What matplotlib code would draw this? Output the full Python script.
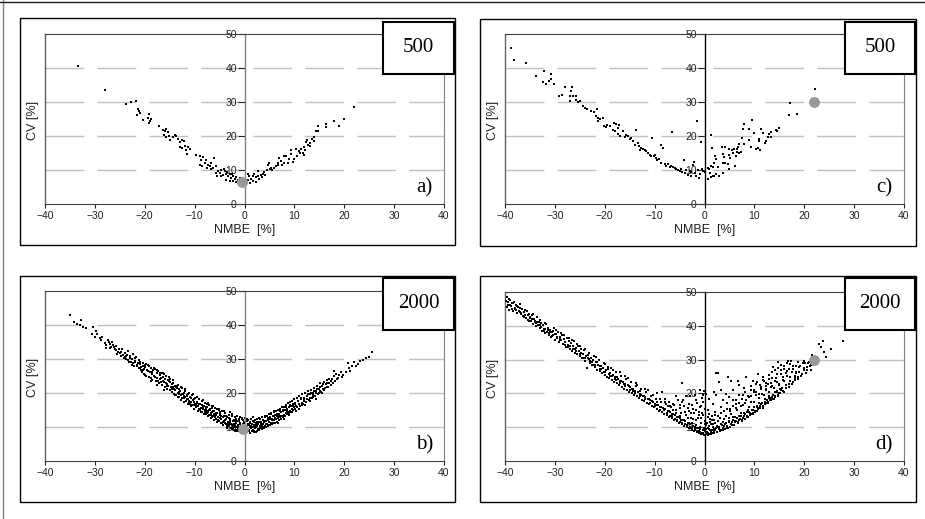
import numpy as np
import matplotlib.pyplot as plt
from matplotlib.patches import Rectangle
from matplotlib.lines import Line2D

W, H = 925, 519

# NMBE [%], CV [%] pairs
pts_a = [(-33.3, 40.5), (-28, 33.4), (-23.7, 29.4), (-22.8, 29.9), (-21.8, 30.3), (-21.3, 28), (-21.2, 27.3),
         (-21, 26.8), (-21.5, 26.3), (-20.3, 24.8), (-19.3, 25.3), (-19.2, 26.6), (-19, 24.5), (-18.7, 25),
         (-19.1, 23.8), (-17.1, 23), (-16.3, 21.9), (-16, 21.4), (-15.7, 22.1), (-15.3, 21.1), (-16.1, 20.4),
         (-15.7, 19.7), (-15.1, 20.1), (-15, 18.9), (-14.3, 19.7), (-14, 20.4), (-13.7, 19.9), (-13.3, 19.1),
         (-13, 18.1), (-12.5, 18.9), (-12.1, 18.4), (-12, 17.2), (-11.7, 16), (-11.3, 16.8), (-10.9, 16.2),
         (-11.5, 14.8), (-12.5, 16.4), (-12.9, 16.8), (-9.8, 14.5), (-9, 14), (-8.7, 13), (-8.3, 13.8),
         (-8, 12), (-7.7, 13), (-7.3, 11.6), (-7, 11.1), (-6.7, 12), (-6.2, 13.5), (-6.3, 10.6), (-9, 11.4),
         (-8.5, 11.1), (-7.5, 10.6), (-5.7, 11.3), (-5.3, 9.6), (-5, 9.1), (-4.7, 10.1), (-4.3, 8.6), (-4, 9.6),
         (-3.7, 8.9), (-3.3, 8.2), (-3, 8.7), (-2.7, 7.6), (-2.3, 8.3), (-2, 7.4), (-1.7, 8), (-1.3, 7),
         (-1, 7.6), (-5.8, 9.1), (-5.5, 8.1), (-4.7, 8.1), (-3.7, 7.2), (-3, 6.9), (-2.3, 6.7), (-1.7, 6.4),
         (-6.8, 10.2), (-4.1, 10.4), (-3.5, 9.4), (-2.6, 8.9), (-0.8, 7.3), (-0.2, 5.9), (0.2, 6.3),
         (22, 28.6), (20, 24.9), (19, 22.9), (17.9, 24.4), (16.3, 23.4), (16.3, 22.6), (14.7, 22.9), (14.7, 21.5),
         (14.3, 21.5), (14, 19.8), (13.9, 18.5), (13.5, 19), (13.2, 18), (12.8, 17.5), (12.3, 18.2), (12.5, 18.8),
         (12, 16.9), (12.1, 15.9), (11.7, 15.1), (11.9, 14.3), (11.3, 16.1), (10.9, 15.6), (10.3, 16.3),
         (9.3, 15.9), (10.5, 14), (10, 13.2), (9.7, 12.4), (9, 13.2), (8.3, 14), (8, 14.1), (8.7, 12.2),
         (8, 12), (7.3, 12.7), (7, 13.4), (6.8, 11.4), (6.3, 11.2), (6, 10.7), (5.3, 10.7), (5, 12.2),
         (4.8, 11.4), (5.2, 10.2), (4.5, 10), (4, 9.3), (3.7, 8.8), (3.3, 8.5), (2.8, 9.8), (2.7, 8.3),
         (2.3, 7.8), (2, 8.8), (1.7, 8.3), (1.3, 7.5), (1, 8.1), (0.7, 8.8), (0.8, 7.1), (1.7, 6.8),
         (2.3, 6.5), (3, 7.3), (0.3, 6.1), (6.7, 12.2), (5.6, 9.9), (4.2, 8.4), (7.6, 11.5), (9.4, 14.6),
         (11.1, 15), (13.1, 17.1), (1.2, 6.2), (3.6, 7.9)]

pts_c = [(-38.7, 45.9), (-38.2, 42.5), (-35.8, 41.5), (-33.8, 37.7), (-32.1, 39), (-32.3, 35.9), (-31.7, 35.4),
         (-31.1, 36.1), (-30.7, 36.8), (-30.8, 38.2), (-30.2, 35.2), (-29.1, 31.9), (-28.5, 32.2), (-28, 34.3),
         (-26.9, 31.9), (-26.7, 33.1), (-26.5, 34.4), (-26.3, 31.7), (-26.9, 30.2), (-25.8, 31.7), (-25.7, 30.7),
         (-25.3, 29.9), (-25, 30.2), (-24.3, 28.9), (-24, 28.2), (-23.5, 27.9), (-22.7, 27.5), (-22.2, 27),
         (-21.5, 27.9), (-21.8, 26), (-21.3, 25.3), (-21, 25), (-21.3, 24.3), (-20.3, 25.3), (-20.2, 23),
         (-19.7, 22.6), (-19.5, 23.3), (-19, 22.8), (-18.2, 23.8), (-17.7, 23.5), (-17.2, 23.3), (-17.3, 22.4),
         (-18.3, 21.9), (-18, 21.4), (-17.3, 20.7), (-16.9, 20.1), (-16.3, 21.4), (-16, 19.7), (-15.7, 20.4),
         (-15.3, 20.1), (-15, 19.1), (-14.7, 19.4), (-14.3, 18.4), (-13.8, 21.7), (-14, 17.5), (-13.3, 18),
         (-13.1, 17), (-12.7, 16.5), (-13, 16), (-12.3, 16.2), (-11.7, 15.5), (-11.3, 15), (-11, 14.5),
         (-10.7, 14), (-10.5, 19.4), (-10.2, 14.2), (-9.8, 13.5), (-9.5, 12.8), (-9.1, 13.2), (-8.7, 12.2),
         (-8.7, 17.5), (-8.3, 16.5), (-8, 11.7), (-7.7, 11.1), (-7.3, 11.9), (-7, 10.8), (-6.7, 11.3),
         (-6.5, 21.1), (-6, 10.6), (-5.7, 10.3), (-5.3, 10.1), (-5, 9.6), (-4.7, 10.3), (-4.5, 9.3),
         (-4.1, 13), (-4, 9.1), (-3.7, 10.1), (-3.3, 8.6), (-3, 9.6), (-2.7, 8.1), (-2.3, 11.6), (-2.1, 12.5),
         (-2, 9.1), (-1.7, 8.1), (-1.5, 24.4), (-1.3, 10.1), (-1.1, 7.6), (-0.7, 18.2), (-2.2, 12.4),
         (-2.7, 9.3), (-1, 8.8), (-0.5, 10.4), (-0.3, 9.8), (-9.9, 14.4), (-12, 15.8), (-6.3, 11),
         (22.2, 33.7), (17.1, 29.6), (16.9, 26.3), (18.5, 26.6), (14.9, 22.4), (14.3, 21.8), (14.5, 21.5),
         (13.3, 21.2), (13, 20.5), (13.3, 19.8), (12.7, 19.8), (12.2, 18), (11.8, 20.8), (11.3, 22.1),
         (11, 19), (10.9, 18.5), (10.7, 16.6), (11.1, 15.9), (10.3, 16.3), (10, 21), (9.5, 24.7), (9, 22.1),
         (8.9, 18.8), (8, 23.4), (7.7, 22.1), (7.5, 19.5), (8, 17.6), (9.3, 16.9), (7, 17.6), (6.7, 16.9),
         (6.5, 16.1), (7, 14.9), (6.3, 14.1), (6, 16.3), (5.7, 15.1), (7.3, 15.3), (6.2, 11.2), (5.2, 13.4),
         (4.9, 10.2), (4.7, 11.7), (4.2, 12), (4, 13.7), (3.8, 14.6), (3.5, 16.9), (4.2, 16.9), (5, 16.1),
         (4.9, 14.3), (3.7, 12.2), (2.7, 11), (2.3, 13.2), (2.2, 14), (2, 12.2), (1.8, 11), (1.5, 16.6),
         (1.3, 20.2), (1.3, 11.2), (1, 10.2), (0.7, 10.7), (1.1, 9.1), (1.7, 8.3), (2.3, 8.8), (3, 8.3),
         (3.8, 9), (0.2, 9.5), (0.7, 7.3), (1.3, 7.8), (2, 8.1), (5.5, 15.8), (6.6, 15.4), (12.4, 18.6)]

pts_b = [(-35, 42.9), (-34.2, 41), (-33.5, 40.3), (-32.7, 41.5), (-32.9, 40), (-32.3, 39.3), (-31.8, 39),
         (-30.3, 39.3), (-30.5, 37.5), (-29.8, 38.3), (-29.5, 37.5), (-30, 36.4), (-29, 36.1), (-28.7, 35.6),
         (-28.5, 36.4), (-28, 34.8), (-27.7, 34.1), (-27.8, 33.1), (-27.1, 35.1), (-27, 34.4), (-26.7, 33.6),
         (-26.3, 34.1), (-26, 32.8), (-25.7, 32.6), (-25.3, 32.2), (-25, 31.7), (-24.7, 32.2), (-24.3, 31.2),
         (-24, 30.7), (-23.7, 30.9), (-23.3, 29.7), (-23, 30.2), (-22.7, 29.2), (-22.3, 28.7), (-22, 29.5),
         (-21.7, 30.7), (-21.5, 28.2), (-21, 29.2), (-21, 27.3), (-20.7, 27.7), (-20.3, 26.8), (-20, 28.2),
         (-27.4, 35.5), (-26.9, 33.2), (-26.5, 35), (-26.2, 33.5), (-25.8, 33.8), (-25.5, 31.5), (-25.1, 33),
         (-24.8, 31), (-24.5, 32.8), (-24.1, 30.2), (-23.9, 31.8), (-23.5, 31.2), (-23.2, 29.1), (-22.9, 31),
         (-22.5, 30), (-22.2, 27.8), (-21.9, 30.3), (-21.3, 28.9), (-21.2, 27.5), (-20.9, 28.5), (-20.5, 26.3),
         (-20.4, 28.9), (-20.1, 25.6), (-20.2, 27),
         (-19.9, 27.6), (-19.7, 25.1), (-19.6, 26.9), (-19.4, 28.1), (-19.2, 24.6), (-19, 26.2), (-18.8, 27.4),
         (-18.6, 25.6), (-18.5, 23.9), (-18.3, 26.8), (-18.1, 25), (-17.9, 27.1), (-17.8, 23.5), (-17.6, 25.9),
         (-17.5, 24.4), (-17.3, 26.5), (-17.1, 22.9), (-17, 25.2), (-16.9, 24), (-16.7, 26), (-16.6, 22.5),
         (-16.4, 24.8), (-16.3, 23.4), (-16.1, 25.5), (-16, 21.8), (-15.9, 24.2), (-15.7, 22.9), (-15.6, 21.2),
         (-15.4, 23.8), (-15.3, 22.1), (-15.1, 24.6), (-15, 20.8), (-14.9, 23.1), (-14.8, 21.7), (-14.6, 22.6),
         (-14.5, 20.4), (-14.4, 23.7), (-14.2, 21.3), (-14.1, 19.8), (-14, 22.2), (-17.5, 22.3), (-18.8, 23.6),
         (-16.2, 20.8),
         (-13.9, 20.9), (-13.8, 19.4), (-13.6, 22), (-13.5, 21.4), (-13.4, 18.7), (-13.3, 19.9), (-13.2, 21.1),
         (-13.1, 18.7), (-12.9, 20.7), (-12.8, 17.9), (-12.7, 19.4), (-12.6, 21.5), (-12.5, 18.4), (-12.3, 19.8),
         (-12.2, 20.1), (-12.1, 17.3), (-12, 18.9), (-11.9, 20.6), (-11.8, 17.7), (-11.6, 19.2), (-11.5, 19.4),
         (-11.4, 16.8), (-11.3, 18.1), (-11.2, 20), (-11.1, 17.2), (-10.9, 18.7), (-10.8, 16.1), (-10.7, 17.4),
         (-10.6, 19.3), (-10.5, 16.5), (-10.3, 17.9), (-10.2, 18.1), (-10.1, 15.4), (-10, 16.8), (-9.9, 18.6),
         (-9.8, 15.8), (-9.6, 17.1), (-9.5, 17.4), (-9.4, 14.8), (-9.3, 16.2), (-9.2, 18.2), (-9.1, 15.2),
         (-8.9, 16.8), (-8.8, 14.4), (-8.7, 15.5), (-8.6, 17.6), (-8.5, 14.5), (-8.3, 16), (-8.2, 16.2),
         (-8.1, 13.7),
         (-8, 15), (-7.9, 17), (-7.8, 13.8), (-7.7, 15.9), (-7.6, 14.2), (-7.5, 15.8), (-7.4, 13.1), (-7.3, 14.5),
         (-7.2, 16.6), (-7.1, 13.5), (-7, 15.1), (-6.9, 15.2), (-6.8, 12.6), (-6.7, 14.1), (-6.6, 16.2),
         (-6.5, 12.8), (-6.4, 14.7), (-6.3, 13.3), (-6.2, 14.8), (-6.1, 12.1), (-6, 13.5), (-5.9, 15.6),
         (-5.8, 12.3), (-5.7, 14), (-5.6, 11.6), (-5.5, 14.2), (-5.4, 12.9), (-5.3, 13), (-5.2, 15.1),
         (-5.1, 11.8), (-5, 13.4), (-4.9, 13.8), (-4.8, 11.1), (-4.7, 12.5), (-4.6, 14.6), (-4.5, 11.2),
         (-4.4, 12.9), (-4.3, 10.7), (-4.2, 13.2), (-4.1, 11.9), (-4, 12), (-3.9, 14.1), (-3.8, 10.9),
         (-3.7, 12.4), (-3.6, 10.3), (-3.5, 12.8), (-3.4, 11.4), (-3.3, 11.5), (-3.2, 13.6), (-3.1, 10.3),
         (-7.6, 16.8), (-6.4, 16.3), (-5.1, 15.4), (-3, 14.5),
         (-3, 12.2), (-2.9, 12.5), (-2.8, 9.8), (-2.7, 11), (-2.6, 13.2), (-2.5, 9.5), (-2.4, 11.8), (-2.3, 10.4),
         (-2.2, 12), (-2.1, 9.2), (-2, 10.6), (-1.9, 12.9), (-1.8, 9.1), (-1.7, 11.3), (-1.6, 10), (-1.5, 11.8),
         (-1.4, 8.7), (-1.3, 10.3), (-1.2, 12.4), (-1.1, 8.9), (-1, 10.9), (-0.9, 11.2), (-0.8, 9.4),
         (-0.7, 9.5), (-0.6, 12.7), (-0.5, 8.3), (-0.4, 10.6), (-0.3, 12), (-0.2, 9), (-0.1, 11.5), (0, 8.5),
         (-2.6, 10.7), (-1.9, 10.1), (-1.1, 9.9), (-0.4, 9.6), (-3.5, 9.8), (-2, 8.9), (-1.6, 13.1), (-0.9, 13),
         (0.1, 10.3), (0.2, 12.6), (0.3, 8.4), (0.4, 9.8), (0.5, 11.7), (0.6, 8.6), (0.7, 10.9), (0.8, 12.2),
         (0.9, 9.2), (1, 10.5), (1.1, 8.3), (1.2, 11.4), (1.3, 9.7), (1.4, 12.5), (1.5, 8.8), (1.6, 10.1),
         (1.7, 11.8), (1.8, 9.1), (1.9, 10.7), (2, 8.6), (2.1, 12), (2.2, 9.6), (2.3, 11.2), (2.4, 10.1),
         (2.5, 8.8), (2.6, 12.3), (2.7, 9.4), (2.8, 10.8), (2.9, 11.6), (3, 9.1), (3.1, 10.2), (3.2, 12.4),
         (3.3, 9.6), (3.4, 11.1), (3.5, 10.4), (3.6, 9.3), (3.7, 12.1), (3.8, 10), (3.9, 11.4), (4, 9.7),
         (0.5, 9.3), (1.2, 10), (1.9, 9.9), (2.6, 10.4), (3.3, 10.9),
         (4.1, 12.9), (4.2, 10.4), (4.3, 11.7), (4.4, 9.9), (4.5, 13.3), (4.6, 11), (4.7, 12.2), (4.8, 10.2),
         (4.9, 13.7), (5, 11.5), (5.1, 10.6), (5.2, 12.8), (5.3, 11.2), (5.4, 14), (5.5, 10.8), (5.6, 12.4),
         (5.7, 13.1), (5.8, 11.3), (5.9, 14.4), (6, 12), (6.1, 11.1), (6.2, 13.5), (6.3, 12.3), (6.4, 14.8),
         (6.5, 11.6), (6.6, 13.1), (6.7, 12.7), (6.8, 15), (6.9, 12), (7, 13.9), (7.1, 12.8), (7.2, 15.4),
         (7.3, 12.4), (7.4, 14.3), (7.5, 13.2), (7.6, 15.8), (7.7, 12.8), (7.8, 14.6), (7.9, 13.6), (8, 16),
         (8.1, 13.2), (8.2, 15), (8.3, 14.1), (8.4, 16.5), (8.5, 13.7), (8.6, 15.3), (8.7, 14.5), (8.8, 17),
         (8.9, 14.1), (9, 15.9), (9.1, 14.8), (9.2, 17.4), (9.3, 14.5), (9.4, 16.3), (9.5, 15.3), (9.6, 17.7),
         (9.7, 15), (9.8, 16.8), (9.9, 15.8), (10, 18.2), (10.1, 15.4), (10.2, 17.2), (10.4, 16.2), (10.5, 18.6),
         (10.6, 15.8), (10.8, 17.6), (10.9, 16.7), (11, 19), (11.2, 16.3), (11.3, 18.1), (11.5, 17.2),
         (11.6, 19.6), (11.7, 16.8), (11.9, 18.6), (12, 17.6), (12.2, 20),
         (12.3, 17.3), (12.5, 19), (12.6, 18.1), (12.8, 20.5), (12.9, 17.8), (13.1, 19.6), (13.2, 18.6),
         (13.4, 21), (13.5, 18.4), (13.7, 20.1), (13.8, 19.3), (14, 21.6), (14.1, 19), (14.3, 20.7), (14.4, 19.9),
         (14.6, 22.2), (14.8, 19.7), (14.9, 21.3), (15.1, 20.5), (15.2, 22.8), (15.4, 20.4), (15.6, 22),
         (15.7, 21.2), (15.9, 23.3), (16, 20.9), (16.3, 22.6), (16.5, 21.8), (16.6, 23.7),
         (16.8, 21.8), (17, 23), (17.3, 22.5), (17.5, 24.2), (17.7, 23), (18, 26.5), (18.1, 23.5), (18.3, 25.6),
         (18.5, 24.1), (18.7, 24.3), (18.9, 25.4), (19.3, 26.3), (19.5, 24.8), (19.7, 25.3), (20.3, 26.3),
         (20.7, 28.9), (21, 27.3), (21.2, 26.6), (21.5, 27.8), (22, 29.2), (22.3, 28), (22.8, 28.5),
         (23.2, 29.3), (23.7, 29.7), (24.3, 30.2), (25, 30.7), (25.5, 32),
         (-23.85, 30.1), (-23.45, 32.3), (-23.05, 30.8), (-22.65, 28.1), (-22.35, 31.4), (-21.95, 29.1),
         (-21.55, 27.9), (-21.15, 29.7), (-20.75, 26.9), (-20.35, 27.9), (-19.95, 25.2), (-19.65, 28.4),
         (-19.35, 26.4), (-19.05, 27.8), (-18.75, 24.4), (-18.45, 26.1), (-18.15, 27.5), (-17.85, 24.7),
         (-17.55, 26.8), (-17.25, 23.6), (-16.95, 25.8), (-16.65, 24.4), (-16.35, 25.9), (-16.05, 23.1),
         (-15.75, 24.9), (-15.45, 22.6), (-15.15, 23.4), (-14.85, 24.2), (-14.55, 21.2), (-14.25, 22.9),
         (-13.95, 19.4), (-13.65, 21.7), (-13.35, 22.5), (-13.05, 20.2), (-12.75, 21.9), (-12.45, 19.6),
         (-12.15, 18.5), (-11.85, 21.1), (-11.55, 18.1), (-11.25, 19.7), (-10.95, 16.9), (-10.65, 18.4),
         (-10.35, 19.8), (-10.05, 17.5), (-9.75, 16.4), (-9.45, 18.8), (-9.15, 16.9), (-8.85, 15.1),
         (-8.55, 16.6), (-8.25, 17.9), (-7.95, 14.3), (-7.65, 15.2), (-7.35, 17.2), (-7.05, 14.9),
         (-6.75, 13.4), (-6.45, 15.6), (-6.15, 13.9), (-5.85, 12.9), (-5.55, 15.3), (-5.25, 12.2),
         (-4.95, 14.3), (-4.65, 13.1), (-4.35, 11.6), (-4.05, 14.7), (-3.75, 13.1), (-3.45, 10.8),
         (-3.15, 12.6), (-2.85, 11.5), (-2.55, 13.8), (-2.25, 9.8), (-1.95, 11.7), (-1.65, 12.4), (-1.35, 9.3),
         (-1.05, 11.8), (-0.75, 10.2), (-0.45, 12.4), (-0.15, 9.6), (0.15, 11.1), (0.45, 12.3), (0.75, 9.5),
         (1.05, 11.3), (1.35, 10.3), (1.65, 12.9), (1.95, 11.5), (2.25, 8.5), (2.55, 11.4), (2.85, 12.6),
         (3.15, 9.7), (3.45, 12.9), (3.75, 10.8), (4.05, 13.2), (4.35, 10.9), (4.65, 12.7), (4.95, 10.5),
         (5.25, 13.7), (5.55, 12.1), (5.85, 14.6), (6.15, 12.6), (6.45, 13.7), (6.75, 11.3), (7.05, 14.6),
         (7.35, 13.3), (7.65, 14.9), (7.95, 12.5), (8.25, 15.9), (8.55, 14.8), (8.85, 13.5), (9.15, 16.4),
         (9.45, 14.4), (9.75, 16.2), (10.05, 16.7), (10.35, 14.6), (10.65, 17.7), (10.95, 15.4), (11.25, 18.6),
         (11.55, 16.5), (11.85, 17.9), (12.15, 16.4), (12.45, 18.3), (12.75, 19.6), (13.05, 17.6),
         (13.35, 20.1), (13.65, 18.8), (13.95, 20.6), (14.25, 18.3), (14.55, 21.3), (14.85, 20.1),
         (15.15, 21.9), (15.45, 19.9), (15.75, 22.6), (16.05, 21.4), (16.45, 22.9), (16.95, 24.2),
         (17.35, 23.6), (17.85, 25.1),
         (-5.65, 13.6), (-4.85, 12.6), (-3.95, 11.2), (-3.05, 10.8), (-2.15, 10.9), (-1.25, 10.6), (-0.35, 11),
         (0.55, 10.4), (1.45, 11), (2.35, 10.6), (3.25, 11.6), (4.15, 11.8), (5.05, 12.3), (5.95, 13.1),
         (6.85, 13.3), (-6.55, 14.4), (-7.45, 14.6), (-8.35, 15.4), (-9.25, 16.1), (-10.15, 16.4),
         (-11.05, 17.7), (-12.05, 19.1), (-13.15, 19.7), (-14.35, 21.8), (-15.55, 22.2), (-16.75, 23.3),
         (-0.85, 8.6), (0.95, 8.7), (-1.75, 8.9), (1.85, 8.9)]

pts_d = [(-39.8, 47.2), (-39.6, 45.5), (-39.5, 48.6), (-39.3, 46.3), (-39.1, 44.8), (-38.9, 47.5), (-38.8, 45.9),
         (-38.6, 46.8), (-38.4, 44.4), (-38.2, 47), (-38, 45.3), (-37.8, 46.2), (-37.6, 43.9), (-37.4, 45.6),
         (-37.2, 44.3), (-37, 46.5), (-36.8, 43.5), (-36.6, 44.9), (-36.4, 42.8), (-36.2, 44.1), (-36, 43.3),
         (-35.8, 42.2), (-35.6, 44.5), (-35.4, 41.8), (-35.2, 43.6), (-35, 42.7), (-34.8, 41.3), (-34.6, 43.2),
         (-34.4, 40.6), (-34.2, 42.1), (-34, 41.5), (-33.8, 39.8), (-33.6, 42.6), (-33.4, 40.3), (-33.2, 41.2),
         (-33, 39.4), (-32.8, 40.8), (-32.6, 38.6), (-32.4, 40.1), (-32.2, 39), (-32, 37.8), (-31.8, 40.5),
         (-31.6, 38.2), (-31.4, 39.4), (-31.2, 37.3), (-31, 38.7), (-30.8, 36.6), (-30.6, 38.1), (-30.4, 37.4),
         (-30.2, 39.3), (-30, 35.9), (-29.8, 37.6), (-29.6, 36.3), (-29.4, 38.2), (-29.2, 35.3), (-29, 36.8),
         (-28.8, 35.7), (-28.6, 37.4), (-28.4, 34.6), (-28.2, 36), (-28, 35.1), (-27.8, 33.8), (-27.6, 36.5),
         (-27.4, 34.3), (-27.2, 35.5), (-27, 33.2), (-26.8, 34.8), (-26.6, 32.6), (-26.4, 33.9), (-26.2, 35.4),
         (-26, 32), (-25.8, 33.3), (-25.6, 31.6), (-25.4, 34), (-25.2, 32.4), (-25, 31), (-24.8, 33.1),
         (-24.6, 30.4), (-24.4, 31.8), (-24.2, 32.9), (-24, 29.7), (-23.8, 31.2), (-23.6, 27.6), (-23.4, 30.5),
         (-23.2, 32), (-23, 29.1), (-22.8, 30.6), (-22.6, 28.4), (-22.4, 29.8), (-22.2, 31.1), (-22, 27.8),
         (-21.8, 29.2), (-21.6, 27), (-21.4, 28.5), (-21.2, 30), (-21, 26.6), (-20.8, 28), (-20.6, 26.1),
         (-20.4, 27.4), (-20.2, 28.9), (-20, 25.4), (-19.8, 26.8), (-19.6, 25), (-19.4, 27.3), (-19.2, 24.6),
         (-19, 26), (-18.8, 27.6), (-18.6, 24), (-18.4, 25.5), (-18.2, 23.4), (-18, 24.9), (-17.8, 26.3),
         (-17.6, 23), (-17.4, 24.4), (-17.2, 22.5), (-17, 23.8), (-16.8, 25.2), (-16.6, 22), (-16.4, 23.3),
         (-16.2, 21.4), (-16, 22.7), (-15.8, 24.3), (-15.6, 21), (-15.4, 22.4), (-15.2, 20.5), (-15, 21.8),
         (-14.8, 23.4), (-14.6, 20), (-14.4, 21.4), (-14.2, 19.6), (-14, 20.8), (-13.8, 22.1), (-13.6, 19.1),
         (-13.4, 20.3), (-13.2, 18.6), (-13, 19.8), (-12.8, 21.2), (-12.6, 18.1), (-12.4, 19.3), (-12.2, 17.7),
         (-12, 18.9), (-11.8, 20.3), (-11.6, 17.2), (-11.4, 18.4), (-11.2, 16.8), (-11, 17.9), (-10.8, 19.2),
         (-10.6, 16.3), (-10.4, 17.5), (-10.2, 15.9), (-10, 17), (-9.8, 18.4), (-9.6, 15.4), (-9.4, 16.6),
         (-9.2, 14.9), (-9, 16.1), (-8.8, 17.6), (-8.6, 14.5), (-8.4, 15.6), (-8.2, 14), (-8, 15.3), (-7.8, 16.8),
         (-7.6, 13.6), (-7.4, 14.8), (-7.2, 13.1), (-7, 14.4), (-6.8, 15.9), (-6.6, 12.6), (-6.4, 14),
         (-6.2, 12.2), (-6, 13.5), (-5.8, 15.1), (-5.6, 11.8), (-5.4, 13.1), (-5.2, 11.3), (-5, 12.6),
         (-4.8, 14.3), (-4.6, 10.9), (-4.4, 12.2), (-4.2, 10.5), (-4, 11.7), (-3.8, 13.5), (-3.6, 10.1),
         (-3.4, 11.3), (-3.2, 9.7), (-3, 10.9), (-2.8, 12.7), (-2.6, 9.3), (-2.4, 10.5), (-2.2, 8.9), (-2, 10.1),
         (-1.8, 12), (-1.6, 8.6), (-1.4, 9.8), (-1.2, 8.3), (-1, 9.4), (-0.8, 11.3), (-0.6, 8), (-0.4, 9.1),
         (-0.2, 7.8), (0, 8.8),
         (-6.9, 13.2), (-5.9, 12.4), (-4.9, 11.6), (-3.9, 10.8), (-2.9, 10), (-1.9, 9.3), (-0.9, 8.7),
         (-7.5, 14.1), (-6.5, 13.3), (-5.5, 12), (-4.5, 11.2), (-3.5, 10.6), (-2.5, 9.8), (-1.5, 9), (-0.5, 8.4),
         (-8.9, 15.2), (-9.9, 16.2), (-10.9, 17.1), (-11.9, 18.2), (-12.9, 19.1), (-13.9, 20.1), (-14.9, 21.1),
         (-15.9, 22.1), (-16.9, 23.1), (-17.9, 24.2), (-18.9, 25.2), (-19.9, 26.2), (-20.9, 27.2), (-21.9, 28.3),
         (-22.9, 29.5), (-23.9, 30.6), (-24.9, 31.8), (-25.9, 33), (-26.9, 34.1), (-27.9, 35.2), (-28.9, 36.5),
         (-29.9, 37.5), (-30.9, 38.2), (-31.9, 39.2), (-32.9, 40.3), (-33.9, 41.2), (-34.9, 42.2), (-35.9, 43.1),
         (-36.9, 44.2), (-37.9, 45), (-38.9, 46.1),
         (-8.5, 20.3), (-9.5, 20.2), (-4.5, 23), (-5.7, 19.3), (-3.7, 19.1), (-2.5, 16.7), (-1.7, 15),
         (-2.9, 19.3), (-6.3, 17), (-4.1, 16.2), (-3.2, 14.8), (-1.2, 13.5), (-0.3, 17.4), (-0.6, 14.2),
         (-7.2, 17.5), (-5, 15.8), (-8, 18.2), (-0.1, 20.8), (-1.3, 12.6), (-2.1, 14.1), (-3.4, 15.6),
         (-4.6, 17.4),
         (0.2, 7.6), (0.4, 9.5), (0.6, 11.2), (0.8, 8.2), (1, 10.3), (1.2, 12.5), (1.4, 7.9), (1.6, 9.1),
         (1.8, 11), (2, 8.3), (2.2, 13.6), (2.4, 9.8), (2.6, 8.5), (2.8, 11.7), (3, 10.2), (3.2, 8.8), (3.4, 14.1),
         (3.6, 10.6), (3.8, 9.2), (4, 12.3), (4.2, 9.5), (4.4, 11.1), (4.6, 15.4), (4.8, 9.8), (5, 12.8),
         (5.2, 10.2), (5.4, 13.9), (5.6, 11.4), (5.8, 16.2), (6, 10.6), (6.2, 13.1), (6.4, 11.8), (6.6, 15),
         (6.8, 11.2), (7, 17.1), (7.2, 12.5), (7.4, 14.3), (7.6, 11.8), (7.8, 16.5), (8, 13.2), (8.2, 12.3),
         (8.4, 18), (8.6, 14.6), (8.8, 13), (9, 16.1), (9.2, 13.6), (9.4, 19.2), (9.6, 15.1), (9.8, 14.2),
         (10, 17.6), (10.2, 14.6), (10.4, 20.3), (10.6, 16.2), (10.8, 15.3), (11, 18.6), (11.2, 15.7),
         (11.4, 21.4), (11.6, 17.1), (11.8, 16.3), (12, 19.5), (12.2, 16.8), (12.4, 22.1), (12.6, 18),
         (12.8, 17.4), (13, 20.5), (13.2, 17.9), (13.4, 23.2), (13.6, 19), (13.8, 18.4), (14, 21.6), (14.2, 19),
         (14.4, 24.5), (14.6, 20.3), (14.8, 19.5), (15, 22.4), (15.2, 20), (15.4, 25.7), (15.6, 21.5),
         (15.8, 20.6), (16, 23.6), (16.3, 21.5), (16.6, 26.5), (16.9, 22.7), (17.2, 24.8), (17.5, 22.8),
         (17.8, 27.2), (18.1, 24.5), (18.4, 26), (18.8, 24.4), (19.2, 28), (19.6, 25.8), (20, 27), (20.4, 26.1),
         (20.8, 29), (21.2, 28.1), (21.6, 31.5), (22.6, 30.8), (22.8, 29.6),
         (0.1, 9), (0.5, 8.1), (0.9, 9.4), (1.3, 8.6), (1.7, 10.2), (2.1, 9.2), (2.5, 10.5), (2.9, 9.5),
         (3.3, 10.8), (3.7, 9.9), (4.1, 11), (4.5, 10.3), (4.9, 11.6), (5.3, 10.8), (5.7, 12.1), (6.1, 11.4),
         (6.5, 12.6), (6.9, 12), (7.3, 13.2), (7.7, 12.6), (8.1, 13.8), (8.5, 13.3), (8.9, 14.5), (9.3, 14),
         (9.7, 15.2), (10.1, 14.8), (10.5, 16), (10.9, 15.6), (11.3, 16.8), (11.7, 16.3), (12.1, 17.6),
         (12.5, 17.1), (12.9, 18.5), (13.3, 18.1), (13.7, 19.5), (14.1, 19.2), (14.5, 20.6), (14.9, 20.2),
         (0.3, 10.7), (0.7, 12.9), (1.1, 11.6), (1.5, 13.3), (1.9, 12.2),
         (27.8, 35.4), (25.3, 33.1), (24.3, 30.9), (23.7, 35.6), (22.9, 34.6), (23.3, 33.6), (24, 32.2),
         (22.3, 30.2), (21.3, 27), (20.5, 27.7), (20, 29.5), (19.7, 28.9), (19, 27.7), (18.7, 29.2), (18.3, 26.3),
         (18.2, 24), (17.7, 28.2), (17.3, 29.5), (17, 27.3), (16.7, 29.7), (16.3, 26), (16, 28.2), (15.7, 24.8),
         (15.3, 26.8), (15, 22.8), (14.7, 29.2), (14.5, 25.8), (14.2, 23.8), (13.7, 27.7), (13.5, 26.3),
         (13.3, 21.9), (13, 24.4), (12.7, 22.8), (12.3, 20.9), (12, 23.6), (11.7, 25), (11.3, 21.9), (11, 19.9),
         (10.7, 25.6), (10.3, 22.8), (10, 20.4), (9.7, 23.8), (9.3, 21.1), (9, 18.9), (8.3, 24.8), (8, 21.7),
         (7.7, 19.4), (7, 22.4), (6.7, 23.8), (6.3, 17.9), (5.7, 20.9), (5.3, 23.6), (5, 18.9), (4.3, 19.9),
         (3.7, 17.9), (3.3, 20.9), (2.7, 26), (3, 23.3), (2.3, 19.4), (2, 20.4), (1.7, 17), (1, 18.4),
         (0.3, 19.9), (-0.3, 19.4), (-1, 16), (0, 15.5), (-1.7, 17.9), (0.7, 15), (4.8, 24.9), (2.3, 25.9),
         (-39.45, 46.9), (-38.55, 45.1), (-37.75, 44.8), (-36.95, 45.3), (-36.15, 42.6), (-35.35, 43.1),
         (-34.55, 42.1), (-33.75, 40.9), (-32.95, 41.6), (-32.15, 38.4), (-31.35, 38.9), (-30.55, 36.9),
         (-29.75, 38.8), (-28.95, 35.9), (-28.15, 37.4), (-27.35, 33.6), (-26.55, 35.8), (-25.75, 32.4),
         (-24.95, 33.9), (-24.15, 30.6), (-23.35, 31.5), (-22.55, 29.2), (-21.75, 30.9), (-20.95, 28.1),
         (-20.15, 26.3), (-19.35, 27.9), (-18.55, 25.1), (-17.75, 24), (-16.95, 26.2), (-16.15, 22.9),
         (-15.35, 24.6), (-14.55, 21.2), (-13.75, 23), (-12.95, 20.6), (-12.15, 19.1), (-11.35, 20.9),
         (-10.55, 17.8), (-9.75, 16.6), (-8.95, 18.4), (-8.15, 15.2), (-7.35, 16.2), (-6.55, 13.9),
         (-5.75, 14.2), (-4.95, 13.4), (-4.15, 12.1), (-3.35, 12.6), (-2.55, 11.1), (-1.75, 10.6),
         (-0.95, 10.1), (-0.15, 9.6),
         (-39.15, 47.8), (-38.35, 46.6), (-37.55, 45.9), (-36.75, 43.9), (-35.95, 44.6), (-35.15, 41.4),
         (-34.35, 43.6), (-33.55, 41), (-32.75, 39.5), (-31.95, 40.9), (-31.15, 37.9), (-30.35, 38.6),
         (-29.55, 36.6), (-28.75, 37.9), (-27.95, 34.4), (-27.15, 36.3), (-26.35, 33.1), (-25.55, 34.6),
         (-24.75, 32), (-23.95, 33.2), (-23.15, 30.3), (-22.35, 28.4), (-21.55, 29.4), (-20.75, 27.1),
         (-19.95, 28.6), (-19.15, 25.6), (-18.35, 26.9), (-17.55, 24.8), (-16.75, 23.7), (-15.95, 25.1),
         (-15.15, 22.3), (-14.35, 20.8), (-13.55, 22.5), (-12.75, 19.6), (-11.95, 21.3), (-11.15, 18.3),
         (-10.35, 19.6), (-9.55, 17.4), (-8.75, 16), (-7.95, 17.6), (-7.15, 14.7), (-6.35, 15.2), (-5.55, 13),
         (-4.75, 12), (-3.95, 14.6), (-3.15, 11.2), (-2.35, 12.3), (-1.55, 9.9), (-0.75, 12.6), (0.05, 10.9),
         (-6.05, 16.6), (-5.35, 18.1), (-4.25, 17.9), (-3.05, 16.9), (-2.35, 15.4), (-1.45, 17.2),
         (-0.65, 16.2), (-0.25, 13.6), (-1.05, 14.6), (-2.75, 14.2), (-4.85, 16.5), (-6.95, 16.4),
         (-0.45, 18.7), (-1.95, 19.6), (-0.85, 21),
         (0.35, 8.4), (0.65, 9.9), (0.95, 7.9), (1.25, 10.9), (1.55, 8.4), (1.85, 9.6), (2.15, 11.3),
         (2.45, 8.7), (2.75, 10), (3.05, 12.6), (3.35, 9.3), (3.65, 11.4), (3.95, 10.5), (4.25, 13.3),
         (4.55, 9.9), (4.85, 11.9), (5.15, 14.7), (5.45, 10.6), (5.75, 12.9), (6.05, 11.9), (6.35, 15.8),
         (6.65, 11.6), (6.95, 13.4), (7.25, 16.3), (7.55, 12.2), (7.85, 14.1), (8.15, 17.3), (8.45, 12.9),
         (8.75, 15.2), (9.05, 14.3), (9.35, 17.6), (9.65, 13.8), (9.95, 16.1), (10.25, 19.4), (10.55, 14.9),
         (10.85, 17.2), (11.15, 16.4), (11.45, 19.8), (11.75, 15.8), (12.05, 18.3), (12.35, 21.4),
         (12.65, 17.2), (12.95, 19.2), (13.25, 18.7), (13.55, 22.1), (13.85, 18.2), (14.15, 20.4),
         (14.45, 23.3), (14.75, 19.3), (15.05, 21.4), (15.35, 20.9), (15.65, 24.1), (15.95, 20.3),
         (16.25, 22.6), (16.55, 25.2), (16.85, 21.9), (17.15, 23.7), (17.45, 26.4), (17.75, 23.4),
         (18.05, 25.2), (18.35, 28.1), (18.65, 24.9), (18.95, 26.3), (19.35, 25.1), (19.85, 27.5),
         (20.25, 29.1), (20.65, 26.9), (21.05, 29.4), (21.45, 28.3), (21.85, 29.2),
         (0.15, 11.8), (0.85, 13.9), (1.45, 12.1), (2.05, 14.6), (2.65, 13.2), (3.25, 15.9), (3.85, 14.8),
         (4.45, 17.2), (5.05, 15.4), (5.65, 18.1), (6.25, 16.9), (6.85, 19.4), (7.45, 18.2), (8.05, 20.3),
         (8.65, 19.1), (9.25, 22.1), (9.85, 20.9), (10.45, 23.3), (11.05, 22.6), (11.65, 24.1), (12.25, 23.1),
         (12.85, 25.4), (13.45, 24.6), (14.05, 26.9), (14.65, 27.6), (15.25, 28.3), (15.85, 27.1),
         (16.45, 29.1), (17.05, 28.6),
         (-2.65, 9.9), (-1.85, 9.5), (-1.15, 8.9), (-0.35, 8.2), (0.45, 8.7), (1.15, 9.1), (1.95, 8.8),
         (2.85, 9.4), (-0.05, 7.6), (0.75, 7.8), (-0.7, 7.9), (1.6, 8.2)]

ref_a = (-0.5, 6.6)
ref_b = (-0.4, 9.4)
ref_c = (22, 29.9)
ref_d = (22, 30)

sizes = ['500', '2000', '500', '2000']
letters = ['a)', 'b)', 'c)', 'd)']
xticks = [-40, -30, -20, -10, 0, 10, 20, 30, 40]
yticks = [0, 10, 20, 30, 40, 50]


def fbox(x0, y0, x1, y1):
    # pixel box (top-left origin) -> figure fraction [l, b, w, h]
    return [x0 / W, 1 - y1 / H, (x1 - x0) / W, (y1 - y0) / H]


fig = plt.figure(figsize=(W / 100, H / 100), dpi=100)
sans = ['Liberation Sans', 'DejaVu Sans']
serif = ['Liberation Serif', 'DejaVu Serif']

# outer page lines
fig.add_artist(Line2D([3 / W, 3 / W], [0, 1], color='#808080', lw=1))
fig.add_artist(Line2D([0, 1], [1 - 2 / H, 1 - 2 / H], color='#202020', lw=1))

panels = [
    (pts_a, ref_a, 0, (45, 34, 444, 204), (20, 18, 455, 245), (383, 22, 454, 74), '#808080'),
    (pts_b, ref_b, 1, (45, 291, 444, 461), (20, 276, 455, 502), (383, 278, 454, 330), '#808080'),
    (pts_c, ref_c, 2, (505, 34, 904, 204), (480, 19, 916, 246), (845, 22, 915, 74), '#000000'),
    (pts_d, ref_d, 3, (505, 292, 904, 461), (480, 276, 916, 502), (845, 278, 915, 330), '#000000'),
]

for pts, ref, k, abox, obox, lbox, spine_col in panels:
    fig.add_artist(Rectangle((obox[0] / W, 1 - obox[3] / H), (obox[2] - obox[0]) / W,
                             (obox[3] - obox[1]) / H, transform=fig.transFigure,
                             fill=False, edgecolor='black', lw=1, zorder=-1))
    ax = fig.add_axes(fbox(*abox))
    ax.set_xlim(-40, 40)
    ax.set_ylim(0, 50)
    ax.set_axisbelow(True)
    ax.spines['left'].set_position(('data', 0))
    ax.spines['left'].set_color(spine_col)
    ax.spines['left'].set_linewidth(1)
    ax.spines['bottom'].set_color('#404040')
    ax.spines['right'].set_color('#808080')
    ax.spines['top'].set_color('#404040')
    ax.plot([-40, -40], [0, 50], color='#606060', lw=1, clip_on=False)
    ax.set_xticks(xticks)
    ax.set_yticks(yticks)
    ax.tick_params(axis='x', direction='out', length=3, width=0.8, pad=2, labelsize=7.5,
                   colors='#202020')
    ax.tick_params(axis='y', direction='out', length=5, width=0.8, pad=0.5, labelsize=7.5,
                   colors='#202020')
    for lab in ax.get_xticklabels() + ax.get_yticklabels():
        lab.set_fontfamily(sans)
    for yv in yticks[1:-1]:
        ax.axhline(yv, color='#c0c0c0', lw=1, linestyle=(0, (28, 9.4)), zorder=0.2)

    arr = np.array(pts)
    dense = len(pts) > 300
    ax.scatter(arr[:, 0], arr[:, 1], s=4.2 if dense else 1.8, marker='s', color='black',
               linewidths=0, zorder=2)
    ax.scatter([ref[0]], [ref[1]], s=62, color='#999999', linewidths=0, zorder=3)

    ax.text(0.5, -0.155, 'NMBE  [%]', transform=ax.transAxes, ha='center', va='center',
            fontsize=9, family=sans, color='#202020')
    ax.text(-0.03, 0.49, 'CV [%]', transform=ax.transAxes, ha='center', va='center',
            rotation=90, fontsize=9, family=sans, color='#202020')
    ax.text(0.972, 0.07, letters[k], transform=ax.transAxes, ha='right', va='baseline',
            fontsize=15, family=serif)

    fig.add_artist(Rectangle((lbox[0] / W, 1 - lbox[3] / H), (lbox[2] - lbox[0]) / W,
                             (lbox[3] - lbox[1]) / H, transform=fig.transFigure,
                             facecolor='white', edgecolor='black', lw=1.5, zorder=5))
    fig.text((lbox[0] + lbox[2]) / 2 / W, 1 - (lbox[1] + lbox[3]) / 2 / H, sizes[k],
             ha='center', va='center', fontsize=15, family=serif, zorder=6)

fig.savefig('out.png', dpi=100)
